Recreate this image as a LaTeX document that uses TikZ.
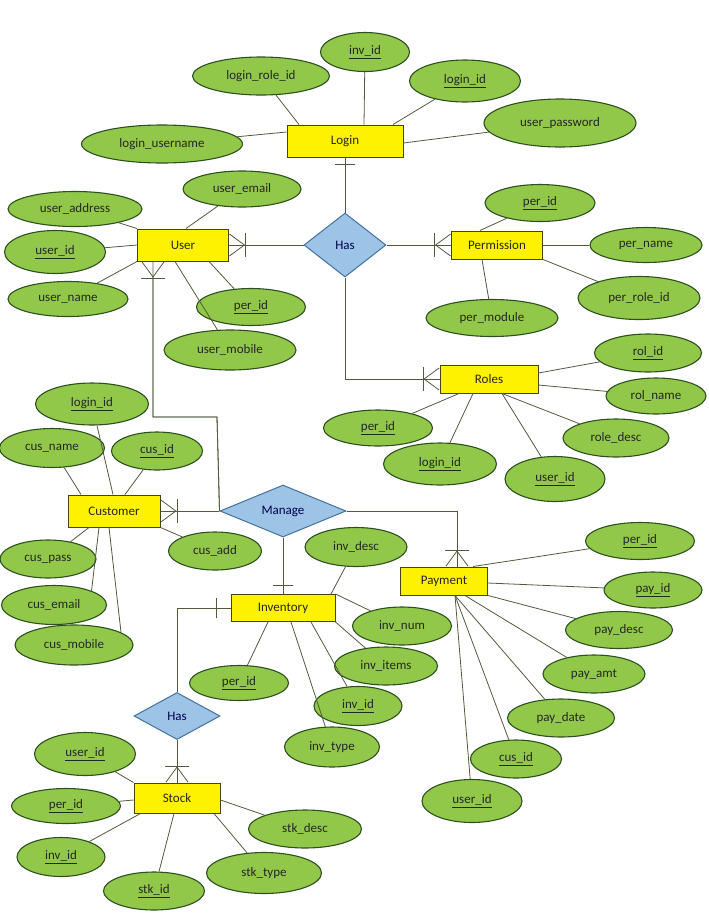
\documentclass[tikz,border=0pt]{standalone}
\usepackage{fontspec}
\setmainfont{Carlito}
\usetikzlibrary{shapes.geometric, arrows.meta, positioning}

\definecolor{attrfill}{RGB}{146,200,74}
\definecolor{attrdraw}{RGB}{45,80,30}
\definecolor{boxdraw}{RGB}{70,70,20}
\definecolor{relfill}{RGB}{157,195,230}
\definecolor{reldraw}{RGB}{65,113,156}
\definecolor{wirecol}{RGB}{80,90,60}

\begin{document}
\begin{tikzpicture}[x=1pt, y=-1pt, font=\fontsize{13}{15}\selectfont, text=black!85,
    attr/.style 2 args={ellipse, draw=attrdraw, fill=attrfill, line width=1.1pt, inner sep=0pt, minimum width=#1pt, minimum height=#2pt},
    entity/.style 2 args={rectangle, draw=boxdraw, fill=yellow, line width=1pt, inner sep=0pt, minimum width=#1pt, minimum height=#2pt},
    rel/.style 2 args={diamond, aspect=2, draw=reldraw, fill=relfill, line width=1pt, inner sep=0pt, minimum width=#1pt, minimum height=#2pt, text=black!70!blue},
    wire/.style={draw=wirecol, line width=0.8pt},
    many/.style={postaction={draw=wirecol, line width=0.8pt, -{Bar[width=24pt,sep=0pt]Straight Barb[reversed,length=15pt,width=22pt]}}},
    one/.style={draw=wirecol, line width=0.8pt, sloped, rectangle, inner sep=0pt, minimum width=0pt, minimum height=20pt}]

    \useasboundingbox (0,0) rectangle (709,914);

    % Define the entities and relations
    \node[entity={116}{32}] (login) at (345,141) {Login};
    \node[entity={91}{32}] (user) at (183,245) {User};
    \node[entity={91}{28}] (perm) at (497,245) {Permission};
    \node[entity={98}{28}] (roles) at (489,379) {Roles};
    \node[entity={92}{32}] (cust) at (114,511) {Customer};
    \node[entity={104}{27}] (inv) at (283,608) {Inventory};
    \node[entity={87}{28}] (pay) at (444,581) {Payment};
    \node[entity={86}{30}] (stock) at (177,798) {Stock};
    \node[rel={82}{64}] (has1) at (345,245) {Has};
    \node[rel={126}{52}] (manage) at (283,511) {Manage};
    \node[rel={86}{47}] (has2) at (177,716) {Has};
    \coordinate (bendum) at (217,417);

    % Login attributes
    \node[attr={89}{39}] (lginvid) at (365,52) {\underline{inv\_id}};
    \node[attr={137}{38}] (lgroleid) at (261,76) {login\_role\_id};
    \node[attr={111}{42}] (lgid) at (465,81) {\underline{login\_id}};
    \node[attr={152}{48}] (lgpass) at (560,123) {user\_password};
    \node[attr={161}{38}] (lguser) at (162,144) {login\_username};

    % User attributes
    \node[attr={118}{36}] (usemail) at (242,189) {user\_email};
    \node[attr={134}{35}] (usaddr) at (75,209) {user\_address};
    \node[attr={101}{43}] (usid) at (55,252) {\underline{user\_id}};
    \node[attr={120}{35}] (usname) at (68,299) {user\_name};
    \node[attr={109}{37}] (usperid) at (251,307) {\underline{per\_id}};
    \node[attr={132}{40}] (usmobile) at (230,350) {user\_mobile};

    % Permission attributes
    \node[attr={110}{37}] (pmperid) at (540,203) {\underline{per\_id}};
    \node[attr={112}{35}] (pmname) at (646,245) {per\_name};
    \node[attr={122}{43}] (pmroleid) at (639,298) {per\_role\_id};
    \node[attr={132}{37}] (pmmodule) at (492,318) {per\_module};

    % Roles attributes
    \node[attr={107}{38}] (rlid) at (648,353) {\underline{rol\_id}};
    \node[attr={100}{36}] (rlname) at (656,396) {rol\_name};
    \node[attr={106}{38}] (rldesc) at (616,438) {role\_desc};
    \node[attr={100}{45}] (rluserid) at (555,479) {\underline{user\_id}};
    \node[attr={113}{42}] (rlloginid) at (440,464) {\underline{login\_id}};
    \node[attr={109}{36}] (rlperid) at (378,428) {\underline{per\_id}};

    % Customer attributes
    \node[attr={113}{42}] (csloginid) at (92,404) {\underline{login\_id}};
    \node[attr={105}{39}] (csname) at (52,448) {cus\_name};
    \node[attr={91}{38}] (csid) at (157,451) {\underline{cus\_id}};
    \node[attr={96}{38}] (cspass) at (48,559) {cus\_pass};
    \node[attr={105}{39}] (csemail) at (54,605) {cus\_email};
    \node[attr={118}{40}] (csmobile) at (74,645) {cus\_mobile};
    \node[attr={93}{38}] (csadd) at (215,551) {cus\_add};

    % Inventory attributes
    \node[attr={102}{39}] (ivdesc) at (356,547) {inv\_desc};
    \node[attr={99}{38}] (ivnum) at (402,626) {inv\_num};
    \node[attr={103}{38}] (ivitems) at (386,666) {inv\_items};
    \node[attr={88}{39}] (ivid) at (358,706) {\underline{inv\_id}};
    \node[attr={95}{40}] (ivtype) at (332,747) {inv\_type};
    \node[attr={99}{35}] (ivperid) at (239,683) {\underline{per\_id}};

    % Payment attributes
    \node[attr={109}{37}] (pyperid) at (640,541) {\underline{per\_id}};
    \node[attr={98}{36}] (pyid) at (653,590) {\underline{pay\_id}};
    \node[attr={107}{37}] (pydesc) at (619,630) {pay\_desc};
    \node[attr={102}{38}] (pyamt) at (594,674) {pay\_amt};
    \node[attr={107}{38}] (pydate) at (561,718) {pay\_date};
    \node[attr={91}{38}] (pycusid) at (516,759) {\underline{cus\_id}};
    \node[attr={100}{43}] (pyuserid) at (472,801) {\underline{user\_id}};

    % Stock attributes
    \node[attr={101}{43}] (stuserid) at (85,754) {\underline{user\_id}};
    \node[attr={109}{35}] (stperid) at (66,806) {\underline{per\_id}};
    \node[attr={88}{39}] (stinvid) at (61,857) {\underline{inv\_id}};
    \node[attr={101}{38}] (stid) at (154,891) {\underline{stk\_id}};
    \node[attr={115}{41}] (sttype) at (264,873) {stk\_type};
    \node[attr={113}{38}] (stdesc) at (305,829) {stk\_desc};

    % Attribute links
    \path[wire]
    (lgroleid) edge ([xshift=-46pt]login.north)
    (lginvid) edge ([xshift=19pt]login.north)
    (lgid) edge ([xshift=48pt]login.north)
    (lgpass) edge ([yshift=-2pt]login.east)
    (lguser) edge ([yshift=9pt]login.west)
    (usemail) edge ([xshift=3pt]user.north)
    (usaddr) edge (user.north west)
    (usid) edge (user.west)
    (usname) edge (user.south west)
    (usperid) edge ([xshift=26pt]user.south)
    (usmobile) edge ([xshift=-8pt]user.south)
    (pmperid) edge ([xshift=-17pt]perm.north)
    (pmname) edge (perm.east)
    (pmroleid) edge (perm.south east)
    (pmmodule) edge ([xshift=-15pt]perm.south)
    (rlid) edge ([yshift=6pt]roles.east)
    (rlname) edge ([yshift=-6pt]roles.east)
    (rldesc) edge ([xshift=13pt]roles.south)
    (rluserid) edge ([xshift=13pt]roles.south)
    (rlloginid) edge ([xshift=-16pt]roles.south)
    (rlperid) edge ([xshift=-30pt]roles.south)
    (csloginid) edge ([xshift=-1pt]cust.north)
    (csname) edge ([xshift=-33pt]cust.north)
    (csid) edge ([xshift=11pt]cust.north)
    (cspass) edge ([xshift=-25pt]cust.south)
    ([xshift=-15pt]cust.south) edge (csemail.north east)
    ([xshift=-5pt]cust.south) edge (csmobile.15)
    (csadd) edge (cust.south east)
    (ivdesc) edge ([xshift=48pt]inv.north)
    (ivnum) edge (inv.north east)
    (ivitems) edge (inv.south east)
    (ivid) edge ([xshift=28pt]inv.south)
    (ivtype) edge ([xshift=8pt]inv.south)
    (ivperid) edge ([xshift=-15pt]inv.south)
    (pyperid) edge ([xshift=29pt]pay.north)
    (pyid) edge ([yshift=-2pt]pay.east)
    (pydesc) edge (pay.south east)
    (pyamt) edge ([xshift=21pt]pay.south)
    (pydate) edge ([xshift=11pt]pay.south)
    (pycusid) edge ([xshift=11pt]pay.south)
    (pyuserid) edge ([xshift=11pt]pay.south)
    (stuserid) edge (stock.north west)
    (stperid) edge ([yshift=-2pt]stock.west)
    (stinvid) edge ([xshift=7pt]stock.south west)
    (stid) edge ([xshift=-3pt]stock.south)
    (sttype) edge ([xshift=37pt]stock.south)
    (stdesc) edge ([yshift=-2pt]stock.east);

    % Relationship links
    \draw[wire] (has1) -- (login) node[one, pos=0.875] {};
    \draw[wire, many] (has1) -- (user);
    \draw[wire, many] (has1) -- (perm);
    \draw[wire, many] (has1.south) |- (roles.west);
    \draw[wire, many] (manage.west) -- (bendum) -| ([xshift=-30pt]user.south);
    \draw[wire, many] (manage) -- (cust);
    \draw[wire, many] (manage.east) -| ([xshift=13pt]pay.north);
    \draw[wire] (manage) -- (inv) node[one, pos=0.85] {};
    \draw[wire] (has2.north) |- (inv.west) node[one, pos=0.87] {};
    \draw[wire, many] (has2) -- (stock);
\end{tikzpicture}
\end{document}
